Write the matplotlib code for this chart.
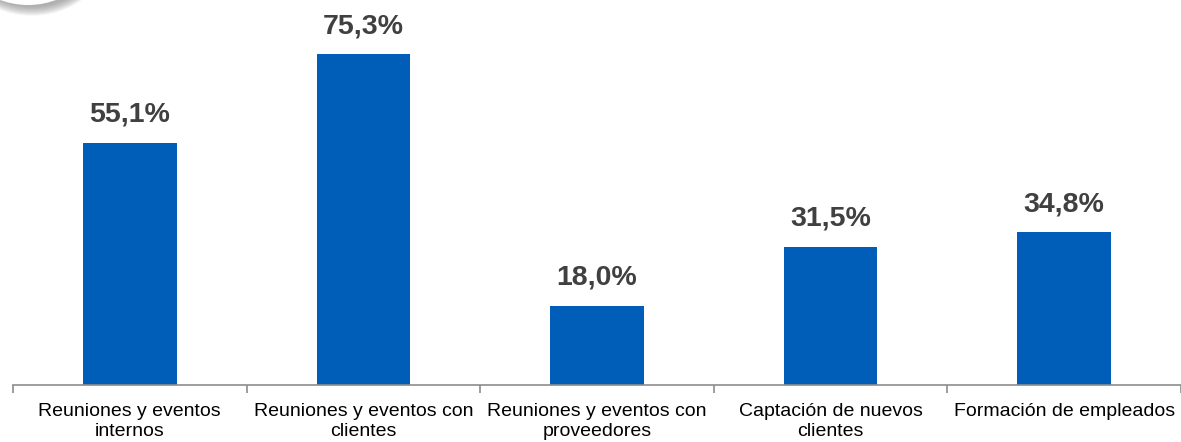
import numpy as np
import matplotlib.pyplot as plt
import matplotlib.patches as patches

plt.rcParams['font.family'] = ['Liberation Sans', 'DejaVu Sans']

categories = ['Reuniones y eventos\ninternos', 'Reuniones y eventos con\nclientes',
              'Reuniones y eventos con\nproveedores', 'Captación de nuevos\nclientes',
              'Formación de empleados']
values = [55.1, 75.3, 18.0, 31.5, 34.8]
value_labels = ['55,1%', '75,3%', '18,0%', '31,5%', '34,8%']

W, H = 1181, 442
fig = plt.figure(figsize=(W / 100, H / 100), dpi=100)
ax = fig.add_axes([13 / W, 57 / H, 1 - 13 / W, 385 / H])

x = np.arange(len(values))
ax.bar(x, values, width=0.4, color='#005EB8', zorder=2)
for xi, v, lab in zip(x, values, value_labels):
    ax.annotate(lab, (xi, v), xytext=(0, 15), textcoords='offset pixels',
                ha='center', va='bottom', fontsize=20.5, fontweight='bold', color='#404040')

ax.set_xlim(-0.5, len(values) - 0.5)
ax.set_ylim(0, 87.6)
ax.set_xticks(x)
ax.set_xticklabels(categories, fontsize=14, color='black', linespacing=1.25)
ax.tick_params(axis='x', which='major', length=0, pad=13)
ax.set_xticks(np.arange(len(values) + 1) - 0.5, minor=True)
ax.tick_params(axis='x', which='minor', length=6, color='#8c8c8c', width=1.2)
ax.set_yticks([])
for s in ['top', 'right', 'left']:
    ax.spines[s].set_visible(False)
ax.spines['bottom'].set_color('#8c8c8c')
ax.spines['bottom'].set_linewidth(1.2)

# decorative circle with soft shadow in the top-left corner
def px_ellipse(cx, cy, r, **kw):
    return patches.Ellipse((cx / W, 1 - cy / H), width=2 * r / W, height=2 * r / H,
                           transform=fig.transFigure, **kw)

for i in range(12):
    fig.patches.append(px_ellipse(32, -72, 79 + i * 0.8, facecolor='#707070',
                                  edgecolor='none', alpha=0.06))
fig.patches.append(px_ellipse(28, -75, 80, facecolor='white', edgecolor='none'))

fig.savefig('out.png', dpi=100)
